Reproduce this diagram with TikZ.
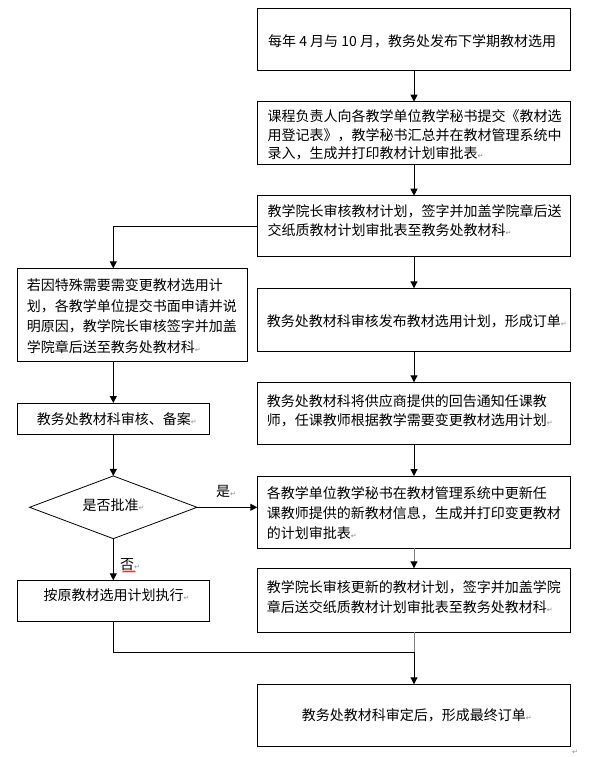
\documentclass[tikz,border=0pt]{standalone}
\usepackage{fontspec}
\setmainfont{Noto Sans CJK SC}
\newfontfamily\dvfont{DejaVu Sans}
\usetikzlibrary{arrows.meta,shapes.geometric}
\newcommand{\rmk}{{\dvfont\fontsize{7}{7}\selectfont\textcolor{black!45}{↵}}}
\begin{document}
\begin{tikzpicture}[x=1pt,y=-1pt,
  box/.style={draw=black,line width=1pt,rectangle,inner sep=0pt,outer sep=0pt},
  txt/.style={inner sep=0pt,align=left,anchor=west,font=\fontsize{14}{#1}\selectfont},
  txt/.default=18.3,
  arr/.style={line width=1pt,-{Triangle[length=7pt,width=7pt]}},
  garr/.style={line width=1pt,draw=black!50,-{Triangle[length=7pt,width=7pt,color=black]}},
]
\useasboundingbox (0,0) rectangle (601,757);
% boxes
\node[box,minimum width=313.4,minimum height=62] (b1) at (414,39.3) {};
\node[box,minimum width=313.4,minimum height=62.6] (b2) at (414,133) {};
\node[box,minimum width=313.4,minimum height=61] (b3) at (414,226.2) {};
\node[box,minimum width=230,minimum height=93] (bA) at (132.3,314.8) {};
\node[box,minimum width=313.4,minimum height=62.7] (b4) at (414,319.65) {};
\node[box,minimum width=313.4,minimum height=61.7] (b5) at (414,413.15) {};
\node[box,minimum width=192,minimum height=31] (bB) at (113.3,418.5) {};
\node[draw=black,line width=0.8pt,diamond,shape aspect=2.67,minimum width=167.4,minimum height=62.7,inner sep=0pt,outer sep=0pt] (dia) at (113.3,507.3) {};
\node[box,minimum width=313.4,minimum height=72.3] (b6) at (414,512.15) {};
\node[box,minimum width=192,minimum height=41.4] (bC) at (113.3,601) {};
\node[box,minimum width=313.4,minimum height=64] (b7) at (414,600.3) {};
\node[box,minimum width=313.4,minimum height=61.7] (b8) at (414,715.15) {};
% texts
\node[txt] (t1) at (268,41.7) {每年 4 月与 10 月，教务处发布下学期教材选用};
\node[txt] (t2) at (267.3,135) {课程负责人向各教学单位教学秘书提交《教材选\\用登记表》，教学秘书汇总并在教材管理系统中\\录入，生成并打印教材计划审批表\rmk};
\node[txt=19.3] (t3) at (267.3,220.3) {教学院长审核教材计划，签字并加盖学院章后送\\交纸质教材计划审批表至教务处教材科\rmk};
\node[txt=20.5] (tA) at (26.7,316) {若因特殊需要需变更教材选用计\\划，各教学单位提交书面申请并说\\明原因，教学院长审核签字并加盖\\学院章后送至教务处教材科\rmk};
\node[txt] (t4) at (266.7,321) {教务处教材科审核发布教材选用计划，形成订单\rmk};
\node[txt] (t5) at (266.7,410.8) {教务处教材科将供应商提供的回告通知任课教\\师，任课教师根据教学需要变更教材选用计划\rmk};
\node[txt] (tB) at (36.7,419.3) {教务处教材科审核、备案\rmk};
\node[txt,anchor=center] (tD) at (113.5,505) {是否批准\rmk};
\node[txt=20] (t6) at (266.7,513.3) {各教学单位教学秘书在教材管理系统中更新任\\课教师提供的新教材信息，生成并打印变更教材\\的计划审批表\rmk};
\node[txt=20] (t7) at (266.7,596.7) {教学院长审核更新的教材计划，签字并加盖学院\\章后送交纸质教材计划审批表至教务处教材科\rmk};
\node[txt] (tC) at (43.3,595) {按原教材选用计划执行\rmk};
\node[txt] (t8) at (301.7,715.7) {教务处教材科审定后，形成最终订单\rmk};
% connectors
\coordinate (j) at (414,652.3);
\draw[arr] (b1) -- (b2);
\draw[arr] (b2) -- (b3);
\draw[arr] (b3) -- (b4);
\draw[arr] (b4) -- (b5);
\draw[arr] (b5) -- (b6);
\draw[garr] (b6) -- (b7);
\draw[line width=1pt,black!50] (b7.south) -- (j);
\draw[arr] (bC.south) |- (j) -- (b8.north);
\draw[arr] (b3.west) -| (bA.north -| bB.north);
\draw[arr] (bA.south -| bB.north) -- (bB.north);
\draw[arr] (bB) -- (dia);
\draw[arr] (dia.east) -- (dia.east -| b6.west);
\draw[arr] (dia) -- (bC);
% labels
\node[txt,anchor=center] (yes) at (226,491) {是\rmk};
\node[txt,anchor=center] (no) at (130,565) {否\rmk};
\draw[red,line width=0.5pt] plot[domain=0:13,samples=27] ({122.5+\x},{571.5+0.8*sin(\x*180)});
\node[inner sep=0pt] (endmark) at (575,752) {\rmk};
\end{tikzpicture}
\end{document}
